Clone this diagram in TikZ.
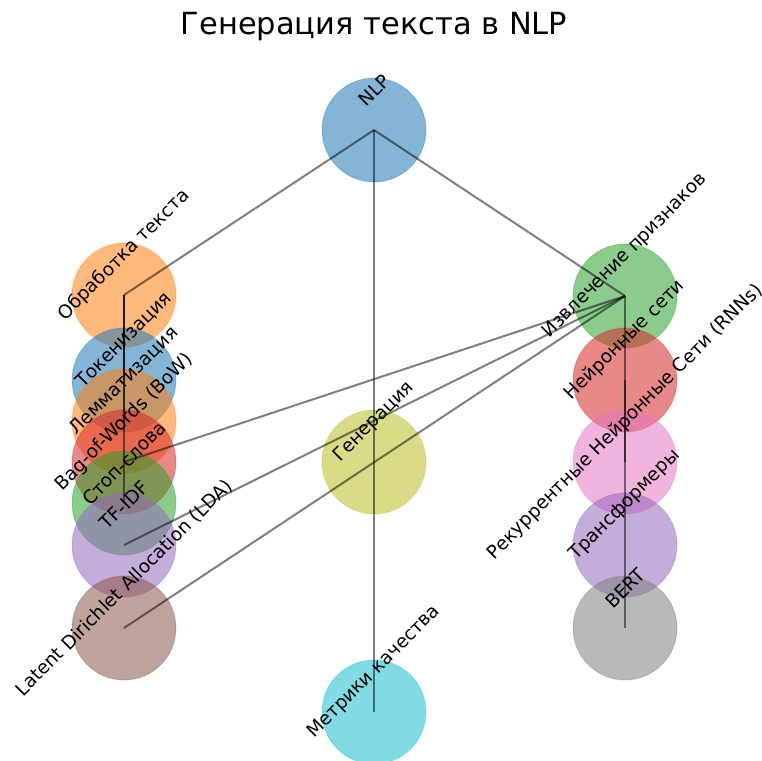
\documentclass[tikz,border=0pt]{standalone}
\usepackage{fontspec}
\setmainfont{DejaVu Sans}
\definecolor{tabblue}{HTML}{1F77B4}
\definecolor{taborange}{HTML}{FF7F0E}
\definecolor{tabgreen}{HTML}{2CA02C}
\definecolor{tabred}{HTML}{D62728}
\definecolor{tabpurple}{HTML}{9467BD}
\definecolor{tabbrown}{HTML}{8C564B}
\definecolor{tabpink}{HTML}{E377C2}
\definecolor{tabgray}{HTML}{7F7F7F}
\definecolor{tabolive}{HTML}{BCBD22}
\definecolor{tabcyan}{HTML}{17BECF}
\begin{document}
\begin{tikzpicture}[x=1pt,y=-1pt,
  nd/.style={circle,minimum size=104pt,inner sep=0pt,fill=#1,fill opacity=0.55,draw=#1,draw opacity=0.3,line width=1pt},
  link/.style={draw=black,opacity=0.5,line width=2pt},
  lbl/.style={rotate=45,font=\fontsize{18.5}{21}\selectfont,inner sep=0pt}]
        \useasboundingbox (0,0) rectangle (762,760);
        \node[font=\fontsize{30.5}{36}\selectfont] (title) at (374,27) {Генерация текста в NLP};
        % circles
        \node[nd=tabblue] (nlp) at (374,130) {};
        \node[nd=taborange] (proc) at (124,295) {};
        \node[nd=tabblue] (tok) at (124,380) {};
        \node[nd=taborange] (lem) at (124,421) {};
        \node[nd=tabred] (bow) at (124,462) {};
        \node[nd=tabgreen] (stop) at (124,503) {};
        \node[nd=tabpurple] (tfidf) at (124,545) {};
        \node[nd=tabbrown] (lda) at (124,628) {};
        \node[nd=tabolive] (gen) at (374,462) {};
        \node[nd=tabcyan] (metr) at (374,712) {};
        \node[nd=tabgreen] (feat) at (625,296) {};
        \node[nd=tabred] (nn) at (625,380) {};
        \node[nd=tabpink] (rnn) at (625,462) {};
        \node[nd=tabpurple] (trf) at (625,545) {};
        \node[nd=tabgray] (bert) at (625,628) {};
        % edges
        \draw[link] (nlp.center) -- (proc.center);
        \draw[link] (nlp.center) -- (gen.center);
        \draw[link] (nlp.center) -- (feat.center);
        \draw[link] (gen.center) -- (metr.center);
        \draw[link] (proc.center) -- (tok.center);
        \draw[link] (proc.center) -- (lem.center);
        \draw[link] (proc.center) -- (stop.center);
        \draw[link] (feat.center) -- (bow.center);
        \draw[link] (feat.center) -- (tfidf.center);
        \draw[link] (feat.center) -- (lda.center);
        \draw[link] (feat.center) -- (nn.center);
        \draw[link] (nn.center) -- (rnn.center);
        \draw[link] (nn.center) -- (trf.center);
        \draw[link] (trf.center) -- (bert.center);
        % labels
        \node[lbl] (nlpt) at ([yshift=40pt]nlp.center) {NLP};
        \node[lbl] (proct) at ([yshift=40pt]proc.center) {Обработка текста};
        \node[lbl] (tokt) at ([yshift=40pt]tok.center) {Токенизация};
        \node[lbl] (lemt) at ([yshift=40pt]lem.center) {Лемматизация};
        \node[lbl] (bowt) at ([yshift=40pt]bow.center) {Bag-of-Words (BoW)};
        \node[lbl] (stopt) at ([yshift=40pt]stop.center) {Стоп-слова};
        \node[lbl] (tfidft) at ([yshift=40pt]tfidf.center) {TF-IDF};
        \node[lbl] (ldat) at ([yshift=40pt]lda.center) {Latent Dirichlet Allocation (LDA)};
        \node[lbl] (gent) at ([yshift=40pt]gen.center) {Генерация};
        \node[lbl] (metrt) at ([yshift=40pt]metr.center) {Метрики качества};
        \node[lbl] (featt) at ([yshift=40pt]feat.center) {Извлечение признаков};
        \node[lbl] (nnt) at ([yshift=40pt]nn.center) {Нейронные сети};
        \node[lbl] (rnnt) at ([yshift=40pt]rnn.center) {Рекуррентные Нейронные Сети (RNNs)};
        \node[lbl] (trft) at ([yshift=40pt]trf.center) {Трансформеры};
        \node[lbl] (bertt) at ([yshift=40pt]bert.center) {BERT};
\end{tikzpicture}
\end{document}
